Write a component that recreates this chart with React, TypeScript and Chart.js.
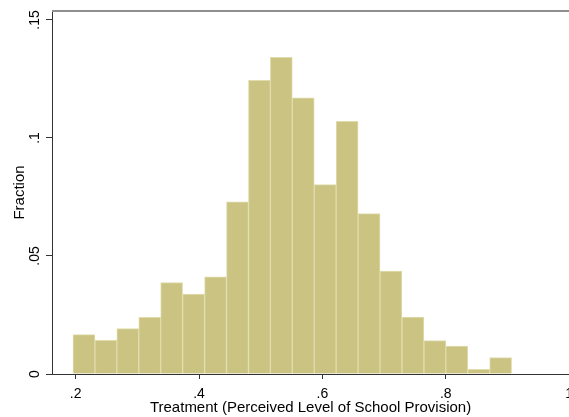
import React, { useEffect, useRef } from "react";
import { Chart, registerables } from "chart.js";

Chart.register(...registerables);

// Histogram bin centers (Treatment) and fractions
const binCenters = [
  0.2134, 0.249, 0.2845, 0.3201, 0.3556, 0.3912, 0.4268, 0.4623, 0.4979, 0.5334,
  0.569, 0.6046, 0.6401, 0.6757, 0.7112, 0.7468, 0.7824, 0.8179, 0.8535, 0.889,
];
const fractions = [
  0.0167, 0.0143, 0.0192, 0.024, 0.0387, 0.0339, 0.0412, 0.0729, 0.1244, 0.1342,
  0.117, 0.0803, 0.1071, 0.068, 0.0436, 0.0241, 0.0142, 0.0118, 0.002, 0.007,
];
const xTicks = [0.2, 0.4, 0.6, 0.8, 1];
const yTicks = [0, 0.05, 0.1, 0.15];

const xTitle = "Treatment (Perceived Level of School Provision)";
const yTitle = "Fraction";

const stataLabel = (v: number) => {
  const r = Number(v.toFixed(2));
  if (r === 0) return "0";
  if (r === 1) return "1";
  return String(r).replace(/^0/, "");
};

export default function App() {
  const ref = useRef<HTMLCanvasElement | null>(null);

  useEffect(() => {
    if (!ref.current) return;
    Chart.defaults.font.family = "'Liberation Sans', Arial, sans-serif";
    const topBorder = {
      id: "topBorder",
      afterDraw(chart: any) {
        const { ctx, chartArea } = chart;
        ctx.save();
        ctx.strokeStyle = "#8f8f8f";
        ctx.lineWidth = 2;
        ctx.beginPath();
        ctx.moveTo(chartArea.left, chartArea.top);
        ctx.lineTo(chart.width, chartArea.top);
        ctx.stroke();
        ctx.restore();
      },
    };
    const chart = new Chart(ref.current, {
      type: "bar",
      data: {
        datasets: [
          {
            data: binCenters.map((x, i) => ({ x, y: fractions[i] })),
            backgroundColor: "rgb(202,195,130)",
            borderColor: "rgb(224,220,172)",
            borderWidth: 1,
            barPercentage: 1,
            categoryPercentage: 1,
          },
        ],
      },
      options: {
        animation: false,
        responsive: false,
        devicePixelRatio: 1,
        layout: { padding: { left: 0, right: 10, top: 11, bottom: 0 } },
        plugins: { legend: { display: false }, tooltip: { enabled: false } },
        scales: {
          x: {
            type: "linear",
            min: 0.1616,
            max: 1.0,
            offset: false,
            afterFit: (s: any) => {
              s.height = 43;
            },
            afterBuildTicks: (s: any) => {
              s.ticks = xTicks.map((v) => ({ value: v }));
            },
            grid: {
              offset: false,
              drawOnChartArea: false,
              drawTicks: true,
              tickLength: 5,
              color: "#333",
            },
            border: { display: true, color: "#333", width: 1 },
            ticks: {
              autoSkip: false,
              maxRotation: 0,
              minRotation: 0,
              padding: 7,
              color: "#000",
              font: { size: 14 },
              callback: (v: any) => stataLabel(Number(v)),
            },
            title: {
              display: true,
              text: xTitle,
              color: "#000",
              font: { size: 15 },
              padding: { top: 0, bottom: 0 },
            },
          },
          y: {
            type: "linear",
            min: 0,
            max: 0.1538,
            offset: false,
            afterFit: (s: any) => {
              s.width = 52;
            },
            afterBuildTicks: (s: any) => {
              s.ticks = yTicks.map((v) => ({ value: v }));
            },
            grid: {
              offset: false,
              drawOnChartArea: false,
              drawTicks: true,
              tickLength: 6,
              color: "#333",
            },
            border: { display: true, color: "#333", width: 1 },
            ticks: {
              autoSkip: false,
              minRotation: 90,
              maxRotation: 90,
              crossAlign: "center",
              padding: 1,
              color: "#000",
              font: { size: 14 },
              callback: (v: any) => stataLabel(Number(v)),
            },
            title: {
              display: true,
              text: yTitle,
              color: "#000",
              font: { size: 15 },
              padding: { top: 11, bottom: 0 },
            },
          },
        },
      },
      plugins: [topBorder],
    } as any);
    return () => chart.destroy();
  }, []);

  return (
    <div
      style={{
        position: "absolute",
        left: 0,
        top: 0,
        width: 569,
        height: 417,
        overflow: "hidden",
        background: "#fff",
      }}
    >
      <canvas ref={ref} width={580} height={417} style={{ display: "block", width: 580, height: 417 }} />
    </div>
  );
}
